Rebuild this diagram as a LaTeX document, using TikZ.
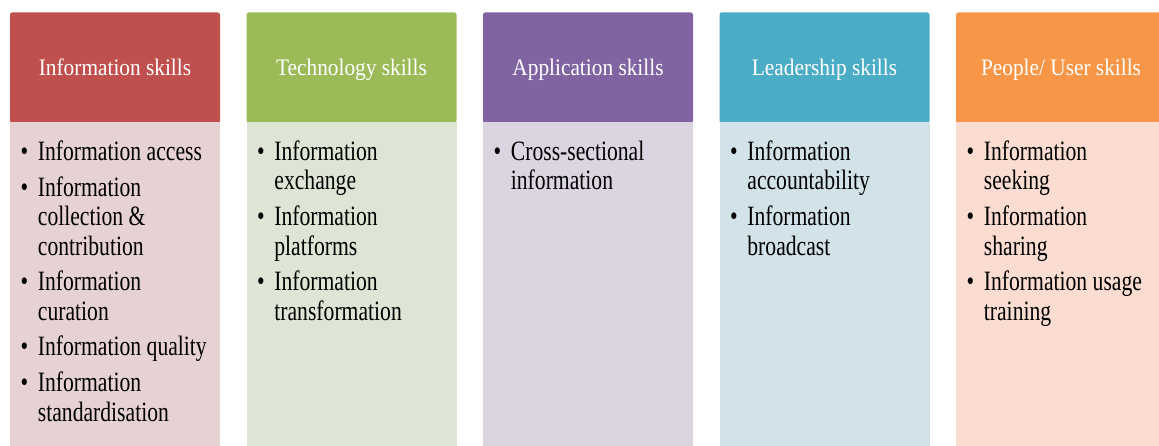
\documentclass[tikz,border=0pt]{standalone}
\usepackage{fontspec}
\setmainfont{Liberation Serif}
\newfontfamily\headfont{Liberation Serif}[FakeStretch=0.90]
\newfontfamily\bodyfont{Liberation Serif}[FakeStretch=0.773]
\definecolor{hred}{HTML}{C0504D}\definecolor{bred}{HTML}{E7D2D3}
\definecolor{hgreen}{HTML}{9BBB59}\definecolor{bgreen}{HTML}{DEE5D4}
\definecolor{hpurple}{HTML}{8064A2}\definecolor{bpurple}{HTML}{DBD5E2}
\definecolor{haqua}{HTML}{4BACC6}\definecolor{baqua}{HTML}{D1E2E8}
\definecolor{horange}{HTML}{F79646}\definecolor{borange}{HTML}{FADCD0}
\newcommand{\bi}{\makebox[17.2pt][l]{\textbullet}}
\newcommand{\bodylist}[1]{{\bodyfont\fontsize{28}{29.3}\selectfont\renewcommand{\arraystretch}{1}\begin{tabular}[t]{@{}l@{}l@{}}#1\end{tabular}}}
\tikzset{
  headbox/.style={rectangle, rounded corners=2.5pt, minimum width=210pt, minimum height=111pt,
    inner sep=0pt, text=white, font=\headfont\fontsize{23.7}{28}\selectfont,
    text height=16pt, text depth=0pt},
  bodybox/.style={rectangle, minimum width=210pt, minimum height=340pt, inner sep=0pt, anchor=north},
  bodytext/.style={anchor=base west, inner sep=0pt, text=black}
}
\begin{document}
\begin{tikzpicture}[x=1pt,y=-1pt]
\path[use as bounding box] (0,0) rectangle (1159,446);
\clip (0,0) rectangle (1159,446);
% column 1
\node[headbox, fill=hred] (h1) at (115,67.8) {Information skills};
\node[bodybox, fill=bred] (b1) at (115,121.5) {};
\node[bodytext] (t1) at (20.5,160.7) {\bodylist{
\bi & Information access\\[6.5pt]
\bi & Information\\
 & collection \&\\
 & contribution\\[6.5pt]
\bi & Information\\
 & curation\\[6.5pt]
\bi & Information quality\\[6.5pt]
\bi & Information\\
 & standardisation}};
% column 2
\node[headbox, fill=hgreen] (h2) at (351.5,67.8) {Technology skills};
\node[bodybox, fill=bgreen] (b2) at (351.5,121.5) {};
\node[bodytext] (t2) at (257,160.7) {\bodylist{
\bi & Information\\
 & exchange\\[6.5pt]
\bi & Information\\
 & platforms\\[6.5pt]
\bi & Information\\
 & transformation}};
% column 3
\node[headbox, fill=hpurple] (h3) at (588,67.8) {Application skills};
\node[bodybox, fill=bpurple] (b3) at (588,121.5) {};
\node[bodytext] (t3) at (493.5,160.7) {\bodylist{
\bi & Cross-sectional\\
 & information}};
% column 4
\node[headbox, fill=haqua] (h4) at (824.5,67.8) {Leadership skills};
\node[bodybox, fill=baqua] (b4) at (824.5,121.5) {};
\node[bodytext] (t4) at (730,160.7) {\bodylist{
\bi & Information\\
 & accountability\\[6.5pt]
\bi & Information\\
 & broadcast}};
% column 5
\node[headbox, fill=horange] (h5) at (1061,67.8) {People/ User skills};
\node[bodybox, fill=borange] (b5) at (1061,121.5) {};
\node[bodytext] (t5) at (966.5,160.7) {\bodylist{
\bi & Information\\
 & seeking\\[6.5pt]
\bi & Information\\
 & sharing\\[6.5pt]
\bi & Information usage\\
 & training}};
\end{tikzpicture}
\end{document}
